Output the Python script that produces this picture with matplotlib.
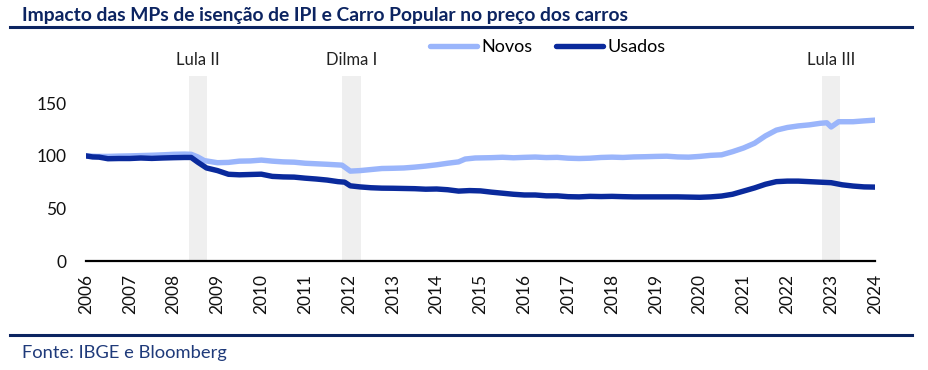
import matplotlib
matplotlib.use("Agg")
from matplotlib import pyplot as plt
from matplotlib.lines import Line2D
import matplotlib.transforms as mtransforms

plt.rcParams['font.family'] = ['Lato', 'DejaVu Sans']

NAVY = "#0c2461"
NOVOS_COLOR = "#9ab5fb"
USADOS_COLOR = "#0a2a9c"
BAND_COLOR = "#efefef"

# leituras aproximadas do grafico (ano decimal, indice)
novos_t = [2006.0, 2006.25, 2006.5, 2006.75, 2007.0, 2007.25, 2007.5, 2007.75,
           2008.0, 2008.25, 2008.4, 2008.55, 2008.7, 2009.0, 2009.25, 2009.5,
           2009.75, 2010.0, 2010.25, 2010.5, 2010.75, 2011.0, 2011.25, 2011.5,
           2011.84, 2012.03, 2012.25, 2012.5, 2012.75, 2013.0, 2013.25, 2013.5,
           2013.75, 2014.0, 2014.25, 2014.5, 2014.65, 2014.88, 2015.25, 2015.5,
           2015.75, 2016.0, 2016.25, 2016.5, 2016.75, 2017.0, 2017.25, 2017.5,
           2017.75, 2018.0, 2018.25, 2018.5, 2018.75, 2019.0, 2019.25, 2019.5,
           2019.75, 2020.0, 2020.25, 2020.5, 2020.75, 2021.0, 2021.25, 2021.5,
           2021.75, 2022.0, 2022.25, 2022.5, 2022.75, 2022.9, 2023.0, 2023.17,
           2023.5, 2023.75, 2024.0]
novos = [100, 99.5, 99.5, 99.8, 100, 100.3, 100.6, 101,
         101.5, 101.7, 101.5, 99, 95.5, 93.5, 93.8, 95,
         95.2, 96, 95, 94.3, 94, 93, 92.5, 92,
         91.2, 85.5, 86, 87, 88, 88.2, 88.5, 89.3,
         90.3, 91.5, 93, 94.3, 97, 98, 98.3, 98.7,
         98.2, 98.6, 98.9, 98.4, 98.6, 97.8, 97.5, 97.8,
         98.5, 98.8, 98.5, 99, 99.2, 99.5, 99.7, 99,
         98.8, 99.5, 100.5, 101, 104, 107.5, 112, 119,
         124.5, 127, 128.5, 129.5, 131, 131.5, 127.5, 132.5,
         132.5, 133.3, 134]

usados_t = [2006.0, 2006.15, 2006.3, 2006.5, 2006.75, 2007.0, 2007.25, 2007.5,
            2007.75, 2008.0, 2008.25, 2008.4, 2008.55, 2008.75, 2009.0, 2009.25,
            2009.5, 2009.75, 2010.0, 2010.25, 2010.5, 2010.75, 2011.0, 2011.25,
            2011.5, 2011.75, 2011.9, 2012.03, 2012.25, 2012.5, 2012.75, 2013.0,
            2013.25, 2013.5, 2013.75, 2014.0, 2014.25, 2014.5, 2014.75, 2015.0,
            2015.25, 2015.5, 2015.75, 2016.0, 2016.25, 2016.5, 2016.75, 2017.0,
            2017.25, 2017.5, 2017.75, 2018.0, 2018.25, 2018.5, 2018.75, 2019.0,
            2019.25, 2019.5, 2019.75, 2020.0, 2020.25, 2020.5, 2020.75, 2021.0,
            2021.25, 2021.5, 2021.75, 2022.0, 2022.25, 2022.5, 2022.75, 2023.0,
            2023.25, 2023.5, 2023.75, 2024.0]
usados = [100, 99, 98.8, 97.3, 97.5, 97.5, 98, 97.6,
          98, 98.3, 98.5, 98.5, 94, 88.5, 86, 82.5,
          82, 82.3, 82.6, 80.5, 80, 79.8, 78.8, 78,
          77, 75.5, 75, 71.5, 70.5, 69.7, 69.3, 69.2,
          69, 68.8, 68.3, 68.5, 67.8, 66.5, 67, 66.7,
          65.5, 64.5, 63.5, 62.8, 62.8, 62, 62, 61.2,
          61, 61.5, 61.3, 61.5, 61.2, 61, 61, 61,
          61, 61, 60.8, 60.6, 61, 61.8, 63.5, 66.5,
          69.5, 73, 75.5, 76, 76, 75.5, 75, 74.5,
          72.5, 71.3, 70.5, 70.3]

band_labels = ["Lula II", "Dilma I", "Lula III"]
band_start = [2008.35, 2011.84, 2022.8]
band_end = [2008.76, 2012.28, 2023.2]

years = list(range(2006, 2025))
y_ticks = [0, 50, 100, 150]

fig = plt.figure(figsize=(9.29, 3.70), dpi=100)
ax = fig.add_axes([86 / 929, 1 - 261 / 370, 789 / 929, 185 / 370])

trans = mtransforms.blended_transform_factory(ax.transData, ax.transAxes)
for label, s, e in zip(band_labels, band_start, band_end):
    ax.axvspan(s, e, color=BAND_COLOR, zorder=0, lw=0)
    ax.text((s + e) / 2, 1.085, label, transform=trans, ha="center", va="center",
            fontsize=12, color="#222222", clip_on=False)

ax.plot(novos_t, novos, color=NOVOS_COLOR, lw=3.9, label="Novos", zorder=2,
        solid_capstyle="round", solid_joinstyle="round")
ax.plot(usados_t, usados, color=USADOS_COLOR, lw=3.9, label="Usados", zorder=3,
        solid_capstyle="round", solid_joinstyle="round")

ax.set_xlim(2006, 2024)
ax.set_ylim(0, 176)
ax.set_xticks(years)
ax.set_xticklabels([str(y) for y in years], rotation=90, fontsize=12.5)
ax.set_yticks(y_ticks)
ax.set_yticklabels([str(v) for v in y_ticks], fontsize=12.5)
ax.tick_params(axis="both", length=0, colors="#111111")
ax.tick_params(axis="y", pad=14)
ax.tick_params(axis="x", pad=9)
for side in ["top", "right", "left"]:
    ax.spines[side].set_visible(False)
ax.spines["bottom"].set_linewidth(1.6)
ax.spines["bottom"].set_color("black")
ax.spines["bottom"].set_zorder(1)

fig.legend(loc="center", bbox_to_anchor=(548 / 929, 1 - 47 / 370), ncol=2,
           frameon=False, fontsize=13, handlelength=2.6, handletextpad=0.25,
           columnspacing=1.3)

fig.text(22 / 929, 1 - 20.5 / 370,
         "Impacto das MPs de isenção de IPI e Carro Popular no preço dos carros",
         fontsize=13.9, fontweight="bold", color=NAVY, va="baseline")
fig.add_artist(Line2D([10 / 929, 912 / 929], [1 - 27 / 370, 1 - 27 / 370],
                      color=NAVY, lw=2.2))
fig.add_artist(Line2D([10 / 929, 912 / 929], [1 - 335 / 370, 1 - 335 / 370],
                      color=NAVY, lw=2.2))
fig.text(22 / 929, 1 - 358 / 370, "Fonte: IBGE e Bloomberg", fontsize=13.2,
         color="#1f3a7a", va="baseline")

fig.savefig("out.png", dpi=100)
